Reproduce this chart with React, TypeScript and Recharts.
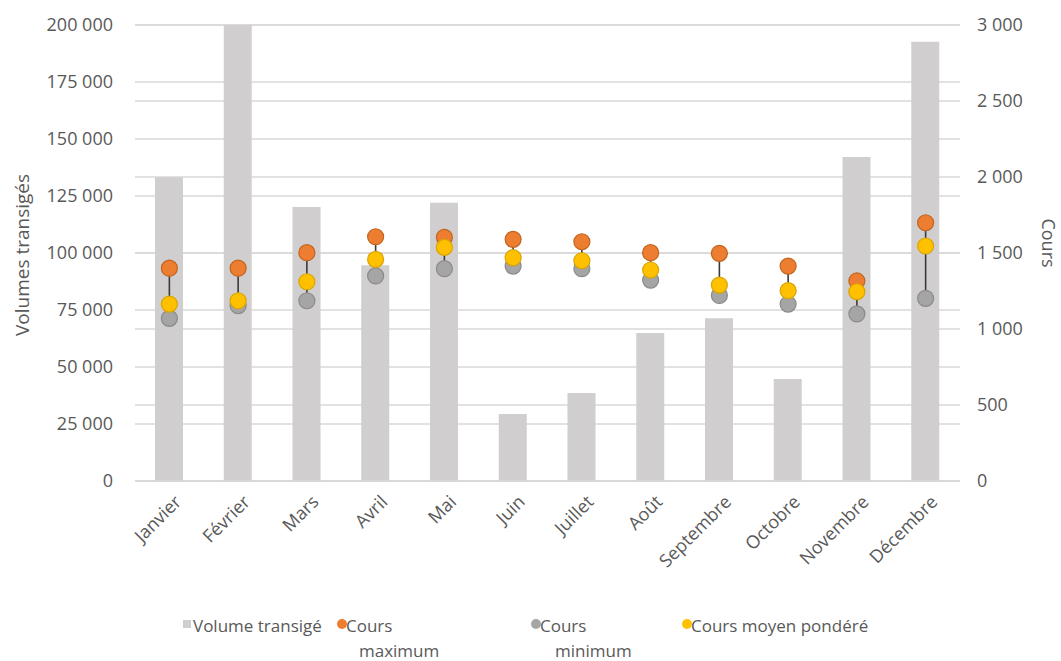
import React from 'react';
import {
  ComposedChart,
  Bar,
  Line,
  XAxis,
  YAxis,
  CartesianGrid,
  Legend,
  ErrorBar,
  Label,
} from 'recharts';

const months = ['Janvier', 'Février', 'Mars', 'Avril', 'Mai', 'Juin', 'Juillet', 'Août', 'Septembre', 'Octobre', 'Novembre', 'Décembre'];
const volumes = [133200, 200000, 120200, 94600, 122000, 29400, 38600, 64900, 71400, 44700, 142100, 192700];
const coursMax = [1400, 1400, 1502, 1607, 1603, 1590, 1574, 1502, 1498, 1414, 1316, 1699];
const coursMin = [1070, 1153, 1186, 1349, 1397, 1414, 1397, 1322, 1221, 1164, 1099, 1202];
const coursMoyen = [1164, 1186, 1311, 1458, 1537, 1469, 1449, 1388, 1289, 1252, 1245, 1546];
const leftTicks = [0, 25000, 50000, 75000, 100000, 125000, 150000, 175000, 200000];
const rightTicks = [0, 500, 1000, 1500, 2000, 2500, 3000];

const data = months.map((m, i) => ({
  mois: m,
  volume: volumes[i],
  max: coursMax[i],
  min: coursMin[i],
  moy: coursMoyen[i],
  err: [coursMoyen[i] - coursMin[i], coursMax[i] - coursMoyen[i]],
}));

const FONT = '"Open Sans", "Noto Sans", sans-serif';
const TXT = '#595959';

const fmt = (v: number) => String(v).replace(/\B(?=(\d{3})+(?!\d))/g, '\u00a0');

const XTick = (props: any) => {
  const { x, y, payload } = props;
  return (
    <g transform={`translate(${x + 13},${y + 22})`}>
      <text textAnchor="end" transform="rotate(-45)" fill={TXT} fontSize={18} fontFamily={FONT}>
        {payload.value}
      </text>
    </g>
  );
};

const makeDot = (fill: string, stroke: string) => (props: any) => {
  const { cx, cy, index } = props;
  if (cx == null || cy == null) return <g key={index} />;
  return <circle key={index} cx={cx} cy={cy} r={8} fill={fill} stroke={stroke} strokeWidth={1.2} />;
};

const legendItems = [
  { l1: 'Volume transigé', l2: '', color: '#D0CECE', shape: 'square', left: 183, indent: 0 },
  { l1: 'Cours', l2: 'maximum', color: '#ED7D31', shape: 'circle', left: 337, indent: 13 },
  { l1: 'Cours', l2: 'minimum', color: '#A5A5A5', shape: 'circle', left: 531, indent: 15 },
  { l1: 'Cours moyen pondéré', l2: '', color: '#FFC000', shape: 'circle', left: 682, indent: 0 },
];

const LegendContent = () => (
  <div style={{ position: 'relative', width: 1061, height: 50, fontFamily: FONT, fontSize: 17, color: TXT }}>
    {legendItems.map((it) => (
      <div key={it.l1 + it.l2} style={{ position: 'absolute', left: it.left, top: 0, lineHeight: '25px' }}>
        <span
          style={{
            position: 'absolute',
            left: 0,
            top: it.shape === 'square' ? 7 : 6,
            width: it.shape === 'square' ? 8 : 10,
            height: it.shape === 'square' ? 8 : 10,
            borderRadius: it.shape === 'square' ? 0 : 5,
            background: it.color,
          }}
        />
        <div style={{ marginLeft: it.shape === 'square' ? 10 : 9, whiteSpace: 'nowrap' }}>{it.l1}</div>
        {it.l2 ? <div style={{ marginLeft: 9 + it.indent, whiteSpace: 'nowrap' }}>{it.l2}</div> : null}
      </div>
    ))}
  </div>
);

export default function App() {
  return (
    <div style={{ position: 'absolute', left: 0, top: 0, background: '#fff' }}>
      <ComposedChart
        width={1061}
        height={661}
        data={data}
        margin={{ top: 25, right: 21, bottom: 100, left: 75 }}
        barGap={0}
      >
        <CartesianGrid yAxisId="left" vertical={false} stroke="#D9D9D9" strokeWidth={1.3} />
        <CartesianGrid yAxisId="right" vertical={false} stroke="#D9D9D9" strokeWidth={1.3} />
        <XAxis
          dataKey="mois"
          height={80}
          interval={0}
          tickLine={false}
          tickSize={0}
          tickMargin={0}
          axisLine={{ stroke: '#D9D9D9', strokeWidth: 1.3 }}
          tick={<XTick />}
        />
        <YAxis
          yAxisId="left"
          width={60}
          domain={[0, 200000]}
          ticks={leftTicks}
          tickFormatter={fmt}
          axisLine={false}
          tickLine={false}
          tickSize={0}
          tickMargin={22}
          tick={{ fill: TXT, fontSize: 18, fontFamily: FONT }}
          allowDataOverflow
        >
          <Label
            content={(p: any) => {
              const vb = p.viewBox || { x: 75, y: 25, height: 456 };
              const cx = 22;
              const cy = vb.y + vb.height / 2 + 2;
              return (
                <text x={cx} y={cy} transform={`rotate(-90 ${cx} ${cy})`} textAnchor="middle" dominantBaseline="central" fill={TXT} fontSize={19} fontFamily={FONT}>
                  Volumes transigés
                </text>
              );
            }}
          />
        </YAxis>
        <YAxis
          yAxisId="right"
          orientation="right"
          width={80}
          domain={[0, 3000]}
          ticks={rightTicks}
          tickFormatter={fmt}
          axisLine={false}
          tickLine={false}
          tickSize={0}
          tickMargin={17}
          tick={{ fill: TXT, fontSize: 18, fontFamily: FONT, textAnchor: 'start' }}
        >
          <Label
            content={(p: any) => {
              const vb = p.viewBox || { x: 960, y: 25, height: 456 };
              const cx = 1049;
              const cy = vb.y + vb.height / 2 - 10;
              return (
                <text x={cx} y={cy} transform={`rotate(90 ${cx} ${cy})`} textAnchor="middle" dominantBaseline="central" fill={TXT} fontSize={18} fontFamily={FONT}>
                  Cours
                </text>
              );
            }}
          />
        </YAxis>
        <Bar yAxisId="left" dataKey="volume" name="Volume transigé" fill="#D0CECE" barSize={28} isAnimationActive={false} />
        <Line yAxisId="right" dataKey="moy" stroke="none" dot={false} activeDot={false} legendType="none" isAnimationActive={false}>
          <ErrorBar dataKey="err" width={0} stroke="#3A3A3A" strokeWidth={1.6} direction="y" />
        </Line>
        <Line yAxisId="right" dataKey="max" name="Cours maximum" stroke="none" dot={makeDot('#ED7D31', '#C0651F')} activeDot={false} isAnimationActive={false} />
        <Line yAxisId="right" dataKey="min" name="Cours minimum" stroke="none" dot={makeDot('#A5A5A5', '#8A8A8A')} activeDot={false} isAnimationActive={false} />
        <Line yAxisId="right" dataKey="moy" name="Cours moyen pondéré" stroke="none" dot={makeDot('#FFC000', '#D9A400')} activeDot={false} isAnimationActive={false} />
        <Legend
          layout="horizontal"
          verticalAlign="middle"
          align="center"
          content={<LegendContent />}
          wrapperStyle={{ position: 'absolute', top: 613, left: 0, width: 1061, height: 50 }}
        />
      </ComposedChart>
    </div>
  );
}
